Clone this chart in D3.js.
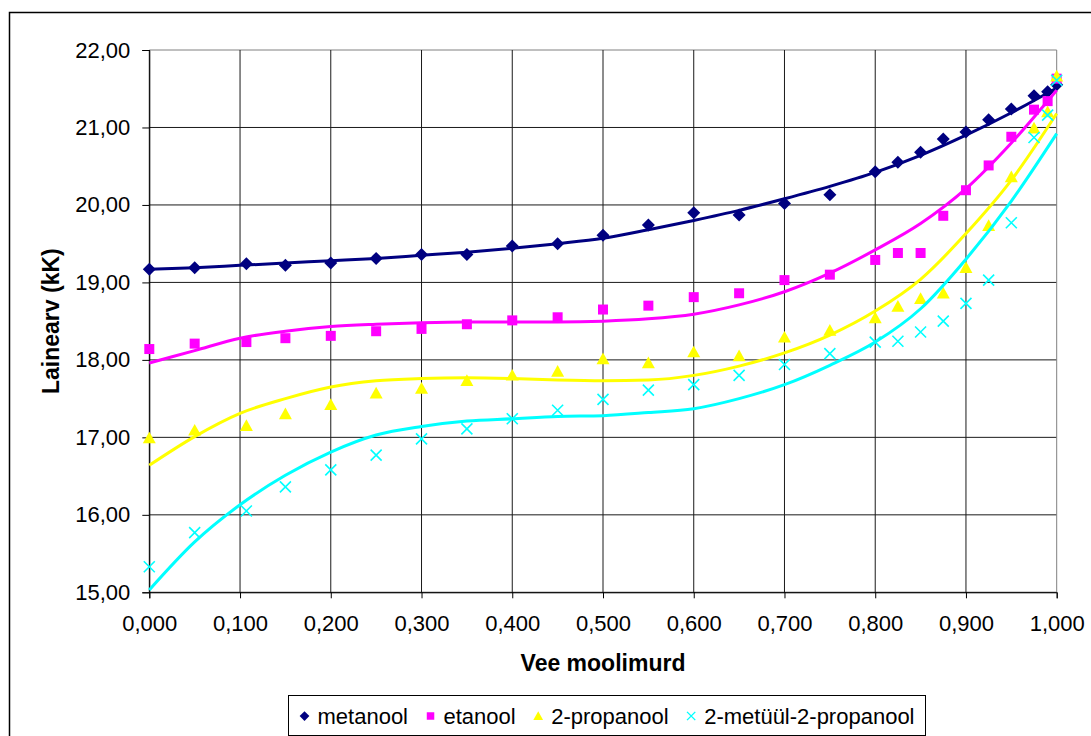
<!DOCTYPE html>
<html>
<head>
<meta charset="utf-8">
<script src="https://cdn.jsdelivr.net/npm/d3@7"></script>
<style>
  body { margin: 0; background: #fff; }
  svg { display: block; font-family: "Liberation Sans", Arial, sans-serif; }
</style>
</head>
<body>
<div id="chart"></div>
<script>
// measured water mole fractions
const xMeas = [0, 0.05, 0.107, 0.15, 0.2, 0.25, 0.3, 0.35, 0.4, 0.45, 0.5, 0.55, 0.6, 0.65, 0.7,
    0.75, 0.8, 0.825, 0.85, 0.875, 0.9, 0.925, 0.95, 0.975, 0.99, 1.0];

const metanool = [19.17, 19.19, 19.24, 19.22, 19.25, 19.31, 19.36, 19.36, 19.47, 19.50, 19.61, 19.74, 19.90,
    19.87, 20.02, 20.13, 20.43, 20.55, 20.68, 20.85, 20.94, 21.10, 21.24, 21.41, 21.46, 21.55];
const etanool = [18.14, 18.21, 18.23, 18.28, 18.31, 18.37, 18.40, 18.46, 18.51, 18.55, 18.65, 18.70, 18.81,
    18.86, 19.03, 19.10, 19.29, 19.38, 19.38, 19.86, 20.19, 20.51, 20.88, 21.23, 21.34, 21.63];
const propanool = [16.99, 17.09, 17.15, 17.30, 17.42, 17.57, 17.63, 17.73, 17.80, 17.85, 18.01, 17.96, 18.10,
    18.05, 18.29, 18.38, 18.54, 18.69, 18.79, 18.86, 19.19, 19.73, 20.36, 20.99, 21.20, 21.66];
const metyylPropanool = [15.33, 15.77, 16.05, 16.36, 16.58, 16.77, 16.98, 17.11, 17.24, 17.35, 17.49, 17.61, 17.68,
    17.80, 17.94, 18.08, 18.23, 18.24, 18.36, 18.50, 18.73, 19.03, 19.77, 20.87, 21.16, 21.61];

// trendlines
const xFit = [0, 0.05, 0.1, 0.15, 0.2, 0.25, 0.3, 0.35, 0.4, 0.45, 0.5, 0.55, 0.6, 0.65, 0.7,
    0.75, 0.8, 0.85, 0.9, 0.95, 1.0];
const metanoolFit = [19.17, 19.19, 19.22, 19.25, 19.28, 19.31, 19.35, 19.39, 19.44, 19.50, 19.57, 19.68, 19.80,
    19.93, 20.08, 20.24, 20.42, 20.64, 20.90, 21.19, 21.51];
const etanoolFit = [17.96, 18.12, 18.28, 18.37, 18.43, 18.46, 18.48, 18.49, 18.49, 18.49, 18.50, 18.53, 18.59,
    18.71, 18.88, 19.12, 19.42, 19.76, 20.21, 20.80, 21.48];
const propanoolFit = [16.64, 17.01, 17.31, 17.50, 17.65, 17.73, 17.76, 17.77, 17.76, 17.74, 17.73, 17.74, 17.80,
    17.92, 18.09, 18.32, 18.63, 19.04, 19.63, 20.32, 21.18];
const metyylFit = [15.03, 15.65, 16.13, 16.51, 16.81, 17.03, 17.14, 17.21, 17.24, 17.27, 17.28, 17.32, 17.37,
    17.50, 17.68, 17.93, 18.23, 18.66, 19.30, 20.05, 20.92];

const xTicks = [0, 0.1, 0.2, 0.3, 0.4, 0.5, 0.6, 0.7, 0.8, 0.9, 1.0];
const yTicks = [15, 16, 17, 18, 19, 20, 21, 22];

const W = 1091, H = 736;
const margin = { left: 149.3, right: W - 1056.7, top: 50, bottom: H - 592.3 };

const locale = d3.formatLocale({ decimal: ",", thousands: " ", grouping: [3], currency: ["", ""] });
const fmtX = locale.format(".3f");
const fmtY = locale.format(".2f");

const x = d3.scaleLinear().domain([0, 1]).range([margin.left, W - margin.right]);
const y = d3.scaleLinear().domain([15, 22]).range([H - margin.bottom, margin.top]);

// custom marker shapes (size = half width)
const diamond = { draw(ctx, s) { ctx.moveTo(0, -s); ctx.lineTo(s, 0); ctx.lineTo(0, s); ctx.lineTo(-s, 0); ctx.closePath(); } };
const square = { draw(ctx, s) { ctx.rect(-s, -s, 2 * s, 2 * s); } };
const triangle = { draw(ctx, s) { ctx.moveTo(0, -s); ctx.lineTo(s, s * 0.8); ctx.lineTo(-s, s * 0.8); ctx.closePath(); } };
const cross = { draw(ctx, s) { ctx.moveTo(-s, -s); ctx.lineTo(s, s); ctx.moveTo(s, -s); ctx.lineTo(-s, s); } };

const series = [
    { name: "metanool", values: metanool, fit: metanoolFit, color: "#000080", shape: diamond, size: 6.5, stroked: false },
    { name: "etanool", values: etanool, fit: etanoolFit, color: "#ff00ff", shape: square, size: 5, stroked: false },
    { name: "2-propanool", values: propanool, fit: propanoolFit, color: "#ffff00", shape: triangle, size: 6.5, stroked: false },
    { name: "2-metüül-2-propanool", values: metyylPropanool, fit: metyylFit, color: "#00ffff", shape: cross, size: 5.5, stroked: true }
];

const svg = d3.select("#chart").append("svg").attr("width", W).attr("height", H);

// chart frame
svg.append("rect").attr("x", 9.5).attr("y", 12.5).attr("width", 1200).attr("height", 900)
    .attr("fill", "#fff").attr("stroke", "#000").attr("stroke-width", 1.5);

// gridlines
svg.append("g").selectAll("line").data(yTicks).join("line")
    .attr("x1", x(0)).attr("x2", x(1)).attr("y1", d => y(d)).attr("y2", d => y(d))
    .attr("stroke", d => d === 22 ? "#808080" : "#1a1a1a").attr("stroke-width", 1);
svg.append("g").selectAll("line").data(xTicks).join("line")
    .attr("y1", y(15)).attr("y2", y(22)).attr("x1", d => x(d)).attr("x2", d => x(d))
    .attr("stroke", d => d === 1 ? "#808080" : "#1a1a1a").attr("stroke-width", 1);

// axes
const yAxis = svg.append("g").attr("transform", `translate(${x(0)},0)`)
    .call(d3.axisLeft(y).tickValues(yTicks).tickFormat(fmtY).tickSize(7).tickPadding(12));
const xAxis = svg.append("g").attr("transform", `translate(0,${y(15)})`)
    .call(d3.axisBottom(x).tickValues(xTicks).tickFormat(fmtX).tickSize(6).tickPadding(17));
[yAxis, xAxis].forEach(a => {
    a.select(".domain").attr("stroke", "#000");
    a.selectAll(".tick line").attr("stroke", "#000");
    a.selectAll("text").attr("font-size", 22).attr("fill", "#000")
        .attr("font-family", "'Liberation Sans', Arial, sans-serif");
});

// series: markers then trendline
const line = d3.line().x((d, i) => x(xFit[i])).y(d => y(d)).curve(d3.curveMonotoneX);
series.forEach(s => {
    const g = svg.append("g");
    g.selectAll("path.pt").data(s.values).join("path").attr("class", "pt")
        .attr("transform", (d, i) => `translate(${x(xMeas[i])},${y(d)})`)
        .attr("d", d3.symbol().type(s.shape).size(s.size))
        .attr("fill", s.stroked ? "none" : s.color)
        .attr("stroke", s.stroked ? s.color : "none")
        .attr("stroke-width", 1.6);
    g.append("path").datum(s.fit).attr("d", line)
        .attr("fill", "none").attr("stroke", s.color).attr("stroke-width", 3)
        .attr("stroke-linejoin", "round");
});

// axis titles
svg.append("text").attr("x", (x(0) + x(1)) / 2).attr("y", 671)
    .attr("text-anchor", "middle").attr("font-size", 23).attr("font-weight", "bold").text("Vee moolimurd");
svg.append("text").attr("transform", `translate(59,${(y(15) + y(22)) / 2}) rotate(-90)`)
    .attr("text-anchor", "middle").attr("font-size", 23).attr("font-weight", "bold").text("Lainearv (kK)");

// legend: fixed box, items spread to fill it
const legBox = { x: 288.5, y: 695.5, w: 637, h: 40 };
const legend = svg.append("g");
legend.append("rect").attr("x", legBox.x).attr("y", legBox.y).attr("width", legBox.w).attr("height", legBox.h)
    .attr("fill", "#fff").attr("stroke", "#000").attr("stroke-width", 1);
const items = series.map(s => {
    const t = legend.append("text").attr("y", 723.5).attr("font-size", 22).attr("fill", "#000").text(s.name);
    return { s, t, w: t.node().getComputedTextLength() };
});
const markGap = 18, pad = 11;
const used = d3.sum(items, d => d.w + markGap);
const gap = (legBox.w - 2 * pad - used) / (items.length - 1);
let cx = legBox.x + pad;
items.forEach(it => {
    const s = it.s;
    legend.append("path").attr("transform", `translate(${cx + 5},716)`)
        .attr("d", d3.symbol().type(s.shape).size(s.size * 0.75))
        .attr("fill", s.stroked ? "none" : s.color)
        .attr("stroke", s.stroked ? s.color : "none").attr("stroke-width", 1.4);
    it.t.attr("x", cx + markGap);
    cx += markGap + it.w + gap;
});
</script>
</body>
</html>
